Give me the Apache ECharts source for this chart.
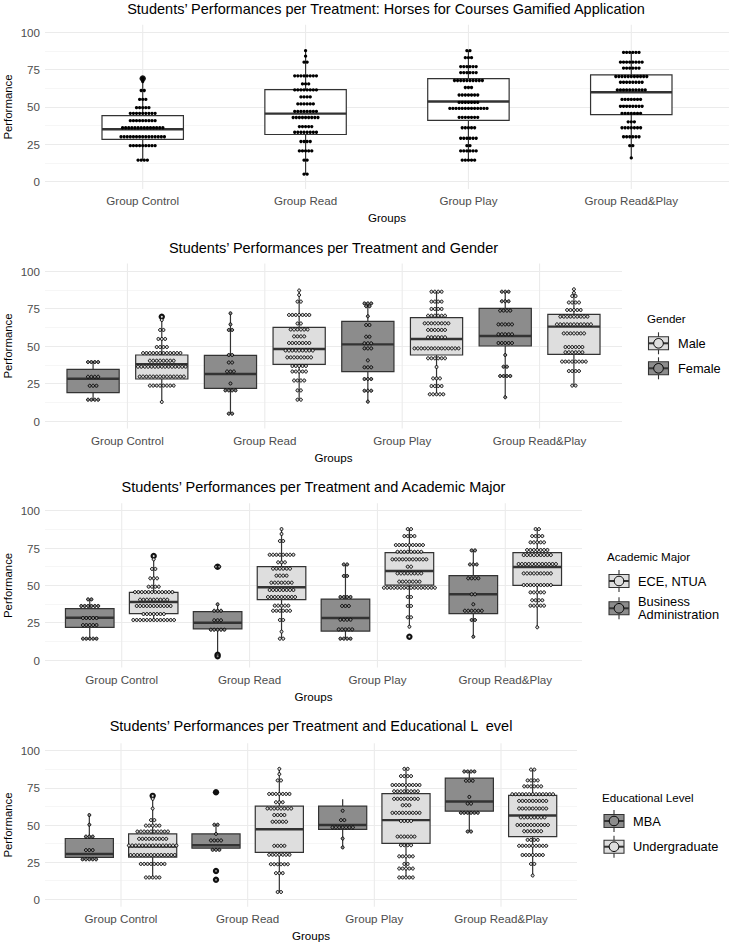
<!DOCTYPE html>
<html><head><meta charset="utf-8">
<script src="https://cdn.jsdelivr.net/npm/echarts@6/dist/echarts.min.js"></script>
<style>html,body{margin:0;padding:0;background:#fff}#c{width:730px;height:945px}</style>
</head><body><div id="c"></div>
<script>
const categories = ['Group Control', 'Group Read', 'Group Play', 'Group Read&Play'];
const yTicks = [0, 25, 50, 75, 100];

// box stats: [lowWhisker, Q1, median, Q3, highWhisker] per category
// dots: [value, count] rows of the dot plot; outliers: values

// Panel 1 – all students
const p1Box = [[14.3, 28.3, 35, 44.2, 67], [4.9, 31.5, 45.5, 61.6, 87.7], [14.3, 41, 53.6, 69, 87.7], [15.8, 44.8, 59.8, 71.4, 86.5]];
const p1Out = [[69], [], [], []];
const p1Dots = [
  [[69,1],[67,1],[61,2],[55,3],[49.5,5],[45.7,9],[40.8,9],[36,14],[30,15],[24,9],[14.3,4]],
  [[87.7,1],[84,1],[80,2],[70.8,8],[65.4,3],[61.4,8],[56.7,4],[52,6],[47,8],[42.9,9],[36.8,5],[33,8],[26.8,4],[20.5,5],[14.3,2],[4.9,2]],
  [[87.7,2],[83,3],[77,6],[73,6],[67.7,10],[63,3],[58,7],[53,7],[49,13],[43,7],[36,5],[29,6],[24,2],[20.5,6],[14.3,5]],
  [[86.5,6],[80,8],[76,6],[70.4,11],[66.5,8],[61.4,10],[55,7],[50.4,8],[45.7,7],[40,3],[36,7],[30,6],[24,2],[15.8,1]]
];

// Panel 2 – gender
const p2FemaleBox = [[14.2, 18.9, 28.2, 34.4, 39.3], [4.9, 21.8, 31.3, 43.8, 71.8], [12.9, 32.9, 51.1, 66.4, 78.4], [15.8, 50, 56.7, 75.1, 86.2]];
const p2MaleBox = [[12.7, 28, 37.8, 44, 67.3], [14.2, 37.8, 48, 62.4, 87], [17.8, 44, 54.7, 68.9, 86.2], [23.6, 44.4, 62.9, 71.1, 87.8]];
const p2FemaleOut = [[], [], [], []];
const p2MaleOut = [[69.5], [], [], []];
const p2FemaleDots = [
  [[39.3,4],[29.5,4],[23.5,3],[14.2,4]],
  [[71.8,1],[64.4,1],[60.7,2],[44,2],[39,2],[33,3],[25,1],[20.4,4],[4.9,2]],
  [[78.4,3],[76.5,2],[69.8,1],[64,2],[56.2,2],[51.8,3],[48.4,3],[40.4,1],[35.8,3],[28,3],[20.2,3],[12.9,1]],
  [[86.2,3],[79.8,3],[73.6,4],[64.4,5],[57.8,5],[52,5],[44,1],[36.2,2],[30,4],[15.8,1]]
];
const p2MaleDots = [
  [[69.5,1],[67.3,1],[60.7,2],[54.7,3],[49.3,4],[45.3,12],[40.2,8],[36.2,15],[29.6,14],[23.6,8],[12.7,1]],
  [[87,1],[84,1],[79.6,2],[70.7,7],[65,2],[61,6],[56.4,4],[52,7],[47,9],[42.4,8],[36.7,5],[33,5],[27,4],[20.4,2],[14.2,2]],
  [[86.2,4],[79.6,4],[74.7,4],[70.2,6],[65.1,8],[60.7,6],[55.8,6],[48.4,14],[41.8,6],[36,1],[28.4,3],[23.3,4],[17.8,5]],
  [[87.8,1],[85.5,1],[83.3,2],[79,4],[74,5],[69.6,9],[64.4,11],[58.4,7],[49.3,6],[45.8,6],[39.6,8],[33.3,4],[23.6,2]]
];

// Panel 3 – academic major
const p3BusinessBox = [[14.3, 21.9, 28.3, 34.4, 40.6], [5, 20.8, 25, 32.4, 37.3], [14.3, 19.4, 28.1, 40.8, 64], [15.6, 31, 44, 56.5, 73.4]];
const p3EceBox = [[26.8, 31, 38.8, 45.3, 67.4], [14.3, 40.4, 48.7, 62.5, 87.7], [22.3, 50.2, 59.6, 71.9, 87.7], [21.9, 50, 62.3, 71.9, 87.7]];
const p3BusinessOut = [[], [62.5, 3.5, 2.5], [], []];
const p3EceOut = [[69.6], [], [15.6], []];
const p3BusinessDots = [
  [[40.6,2],[36.2,6],[28.1,5],[23.4,5],[14.3,5]],
  [[62.5,2],[37.3,1],[33,3],[26.6,3],[20.3,5],[3.5,1],[2.5,1]],
  [[64,2],[56.3,2],[42.2,4],[36.2,3],[27,4],[20.5,5],[14.3,4]],
  [[73.4,2],[64,3],[54.7,4],[44,2],[37.3,1],[33,6],[26.8,2],[15.6,1]]
];
const p3EceDots = [
  [[69.6,1],[67.4,1],[61,2],[54.7,3],[49.1,4],[45.5,12],[40.4,9],[36.2,11],[30.8,7],[26.8,13]],
  [[87.7,1],[84.4,1],[79.7,2],[70.5,8],[65.4,3],[61.2,6],[56.5,4],[51.8,7],[46.9,8],[42.2,9],[36.4,5],[33,6],[26.8,2],[19,1],[14.3,2]],
  [[87.7,2],[83,4],[77,9],[72.5,8],[67.4,11],[62.5,2],[58,8],[52.5,7],[48.4,16],[42.2,2],[36.2,2],[28.6,2],[22.3,1],[15.6,1]],
  [[87.7,2],[83,4],[78.8,5],[73.7,7],[70.3,9],[64.3,12],[58,9],[50.2,9],[45.3,5],[40,4],[36.4,5],[21.9,1]]
];

// Panel 4 – educational level
const p4MbaBox = [[26.9, 28.2, 30.5, 40.9, 56.7], [33.3, 34.4, 36.4, 44, 50.2], [34.9, 47.1, 50, 62.7, 67.3], [45.6, 59.3, 65.8, 81.6, 86]];
const p4UgBox = [[14.7, 28.4, 35.5, 44, 67.6], [4.9, 31.6, 47.1, 62.7, 87.8], [14.7, 37.6, 53.3, 71.1, 87.8], [16, 42.2, 56.4, 70, 87.3]];
const p4MbaOut = [[], [72, 19.1, 13.1], [], []];
const p4UgOut = [[69.6], [], [], []];
const p4MbaDots = [
  [[56.7,1],[50.2,1],[42.2,3],[33.1,3],[26.9,5]],
  [[72,1],[50.2,2],[44,1],[39.6,4],[33.3,3],[19.1,1],[13.1,1]],
  [[67.3,4],[59.6,1],[53.3,2],[48.4,7],[40.9,1],[34.9,1]],
  [[86,4],[79.8,3],[68.9,1],[64.4,2],[58.2,6],[45.6,2]]
];
const p4UgDots = [
  [[69.6,1],[67.6,1],[61.1,1],[53.3,2],[49.6,5],[45.6,10],[40.7,9],[36.2,15],[29.8,14],[23.8,8],[14.7,5]],
  [[87.8,1],[84.2,1],[80,2],[70.9,7],[65.3,3],[61.1,8],[56.7,4],[52.2,5],[47.1,8],[42.4,7],[36,4],[30,7],[23.6,6],[17.6,3],[4.9,2]],
  [[87.8,2],[82.9,4],[76.9,9],[72.7,8],[67.6,8],[63.3,3],[58.2,9],[52.7,4],[48.9,10],[42.2,6],[36.4,4],[28.9,5],[23.8,2],[20.7,5],[14.7,5]],
  [[87.3,2],[80,4],[76,6],[70.7,13],[66.2,9],[61.1,9],[55.1,8],[50,10],[45.8,6],[40,4],[36,9],[29.8,7],[23.8,2],[16,1]]
];

const titles = [
  'Students\u2019 Performances per Treatment: Horses for Courses Gamified Application',
  'Students\u2019 Performances per Treatment and Gender',
  'Students\u2019 Performances per Treatment and Academic Major',
  'Students\u2019 Performances per Treatment and Educational L  evel'
];

const FONT = '"Liberation Sans", Arial, Helvetica, sans-serif';
const DARK = '#8C8C8C', LIGHT = '#DEDEDE', LINE = '#333333';

const panels = [
  { grid: {left: 45, top: 32.3, width: 684, height: 149.2}, boxW: 0.5, dotD: 3.1, solid: true,
    groups: [{box: p1Box, dots: p1Dots, out: p1Out, offset: 0, fill: '#FFFFFF'}] },
  { grid: {left: 45, top: 271, width: 577, height: 150}, boxW: 0.38, dotD: 3.4,
    groups: [{box: p2FemaleBox, dots: p2FemaleDots, out: p2FemaleOut, offset: -0.25, fill: DARK},
             {box: p2MaleBox, dots: p2MaleDots, out: p2MaleOut, offset: 0.25, fill: LIGHT}] },
  { grid: {left: 45, top: 510.7, width: 537, height: 149.3}, boxW: 0.38, dotD: 3.4,
    groups: [{box: p3BusinessBox, dots: p3BusinessDots, out: p3BusinessOut, offset: -0.25, fill: DARK},
             {box: p3EceBox, dots: p3EceDots, out: p3EceOut, offset: 0.25, fill: LIGHT}] },
  { grid: {left: 45, top: 750.7, width: 532, height: 148.6}, boxW: 0.38, dotD: 3.4,
    groups: [{box: p4MbaBox, dots: p4MbaDots, out: p4MbaOut, offset: -0.25, fill: DARK},
             {box: p4UgBox, dots: p4UgDots, out: p4UgOut, offset: 0.25, fill: LIGHT}] }
];

const grids = [], xAxes = [], yAxes = [], series = [];

panels.forEach((p, i) => {
  grids.push(Object.assign({containLabel: false, outerBoundsMode: 'none'}, p.grid));
  xAxes.push({
    type: 'value', gridIndex: i, min: 0.4, max: 4.6,
    axisLine: {show: false}, axisTick: {show: false}, splitLine: {show: false},
    axisLabel: {customValues: [1, 2, 3, 4], hideOverlap: false,
      formatter: v => (Math.abs(v - Math.round(v)) < 1e-6 && v >= 1 && v <= 4) ? categories[Math.round(v) - 1] : '',
      color: '#4D4D4D', fontSize: 11.6, fontFamily: FONT, margin: 13},
    name: 'Groups', nameLocation: 'middle', nameGap: 30,
    nameTextStyle: {color: '#000', fontSize: 11.6, fontFamily: FONT}
  });
  yAxes.push({
    type: 'value', gridIndex: i, min: 0, max: 100, interval: 25,
    axisLine: {show: false}, axisTick: {show: false},
    axisLabel: {color: '#4D4D4D', fontSize: 11.6, fontFamily: FONT, margin: 5},
    splitLine: {lineStyle: {color: '#EBEBEB', width: 1.1}},
    minorTick: {show: false, splitNumber: 2},
    minorSplitLine: {show: true, lineStyle: {color: '#F0F0F0', width: 0.6}}
  });

  // vertical guides at each category
  series.push({
    type: 'custom', xAxisIndex: i, yAxisIndex: i, silent: true, z: 1,
    data: categories.map((c, k) => [k + 1]),
    encode: {x: 0},
    renderItem: (params, api) => {
      const x = api.value(0);
      const a = api.coord([x, -5]), b = api.coord([x, 105]);
      return {type: 'line', shape: {x1: a[0], y1: a[1], x2: b[0], y2: b[1]},
        style: {stroke: '#EBEBEB', lineWidth: 1.1}};
    }
  });

  p.groups.forEach(g => {
    // boxes
    series.push({
      type: 'custom', xAxisIndex: i, yAxisIndex: i, silent: true, z: 2,
      data: g.box.map((s, k) => [k + 1 + g.offset].concat(s)),
      encode: {x: 0, y: [1, 2, 3, 4, 5]},
      renderItem: (params, api) => {
        const x = api.value(0);
        const lo = api.coord([x, api.value(1)]), q1 = api.coord([x, api.value(2)]);
        const md = api.coord([x, api.value(3)]), q3 = api.coord([x, api.value(4)]);
        const hi = api.coord([x, api.value(5)]);
        const hw = api.size([p.boxW, 0])[0] / 2;
        return {type: 'group', children: [
          {type: 'line', shape: {x1: lo[0], y1: lo[1], x2: q1[0], y2: q1[1]}, style: {stroke: LINE, lineWidth: 1.2}},
          {type: 'line', shape: {x1: q3[0], y1: q3[1], x2: hi[0], y2: hi[1]}, style: {stroke: LINE, lineWidth: 1.2}},
          {type: 'rect', shape: {x: q3[0] - hw, y: q3[1], width: 2 * hw, height: q1[1] - q3[1]},
            style: {fill: g.fill, stroke: LINE, lineWidth: 1.2}},
          {type: 'line', shape: {x1: md[0] - hw, y1: md[1], x2: md[0] + hw, y2: md[1]}, style: {stroke: LINE, lineWidth: 2.4}}
        ]};
      }
    });
    // outliers
    const outData = [];
    g.out.forEach((vals, k) => vals.forEach(v => outData.push([k + 1 + g.offset, v])));
    series.push({
      type: 'scatter', xAxisIndex: i, yAxisIndex: i, silent: true, z: 3,
      symbol: 'circle', symbolSize: 6.4, itemStyle: {color: '#111', opacity: 1},
      data: outData
    });
    // dot plot
    const dotData = [];
    g.dots.forEach((rows, k) => rows.forEach(r => dotData.push([k + 1 + g.offset, r[0], r[1]])));
    series.push({
      type: 'custom', xAxisIndex: i, yAxisIndex: i, silent: true, z: 4,
      data: dotData, encode: {x: 0, y: 1},
      renderItem: (params, api) => {
        const x = api.value(0), v = api.value(1), n = api.value(2);
        const c = api.coord([x, v]);
        const d = p.dotD;
        const children = [];
        for (let j = 0; j < n; j++) {
          const cx = c[0] + (j - (n - 1) / 2) * d;
          if (p.solid) {
            children.push({type: 'circle', shape: {cx: cx, cy: c[1], r: d / 2 + 0.1}, style: {fill: '#000'}});
          } else {
            children.push({type: 'circle', shape: {cx: cx, cy: c[1], r: d / 2 - 0.2},
              style: {fill: g.fill, stroke: '#000', lineWidth: 0.95}});
          }
        }
        return {type: 'group', children: children};
      }
    });
  });
});

function txt(x, y, text, size, align, rot) {
  return {type: 'text', x: x, y: y, rotation: rot || 0, silent: true,
    style: {text: text, fill: '#000', fontSize: size, fontFamily: FONT, align: align || 'left', verticalAlign: 'middle'}};
}
function legendKey(cx, cy, fill) {
  return {type: 'group', silent: true, children: [
    {type: 'line', shape: {x1: cx, y1: cy - 11, x2: cx, y2: cy + 11}, style: {stroke: LINE, lineWidth: 1.1}},
    {type: 'rect', shape: {x: cx - 10, y: cy - 6.5, width: 20, height: 13}, style: {fill: fill, stroke: LINE, lineWidth: 1.1}},
    {type: 'line', shape: {x1: cx - 10, y1: cy, x2: cx + 10, y2: cy}, style: {stroke: LINE, lineWidth: 2}},
    {type: 'circle', shape: {cx: cx, cy: cy, r: 4.8}, style: {fill: fill, stroke: '#000', lineWidth: 1}}
  ]};
}

const graphics = [
  txt(386, 8.5, titles[0], 14.5, 'center'),
  txt(333.5, 248, titles[1], 14.5, 'center'),
  txt(313.5, 487, titles[2], 14.5, 'center'),
  txt(311, 726, titles[3], 14.5, 'center'),
  // y-axis titles
  txt(8, 107, 'Performance', 11.4, 'center', Math.PI / 2),
  txt(8, 346, 'Performance', 11.4, 'center', Math.PI / 2),
  txt(8, 585.4, 'Performance', 11.4, 'center', Math.PI / 2),
  txt(8, 825, 'Performance', 11.4, 'center', Math.PI / 2),
  // legend: Gender
  txt(647, 318, 'Gender', 11.6),
  legendKey(658.5, 343.3, LIGHT), txt(678, 343.3, 'Male', 12.8),
  legendKey(658.5, 368.3, DARK), txt(678, 368.3, 'Female', 12.8),
  // legend: Academic Major
  txt(607, 556, 'Academic Major', 11.6),
  legendKey(619, 581, LIGHT), txt(638, 581, 'ECE, NTUA', 12.8),
  legendKey(619, 608.3, DARK), txt(638, 601.5, 'Business', 12.8), txt(638, 614.8, 'Administration', 12.8),
  // legend: Educational Level
  txt(602, 797, 'Educational Level', 11.6),
  legendKey(614, 821, DARK), txt(633, 821, 'MBA', 12.8),
  legendKey(614, 846.7, LIGHT), txt(633, 846.7, 'Undergraduate', 12.8)
];

const chart = echarts.init(document.getElementById('c'), null, {renderer: 'svg'});
chart.setOption({
  animation: false,
  backgroundColor: '#FFFFFF',
  grid: grids, xAxis: xAxes, yAxis: yAxes, series: series,
  graphic: graphics
});
</script></body></html>
